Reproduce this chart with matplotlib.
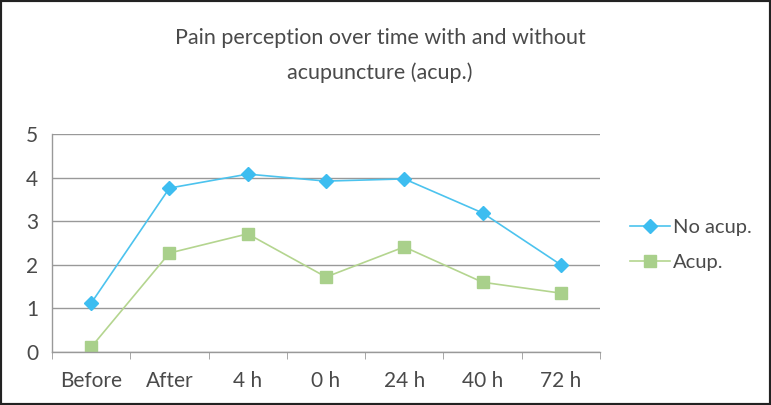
import matplotlib
matplotlib.use("Agg")
import matplotlib.pyplot as plt
from matplotlib.ticker import FixedLocator

categories = ["Before", "After", "4 h", "0 h", "24 h", "40 h", "72 h"]
no_acup = [1.12, 3.76, 4.08, 3.92, 3.97, 3.19, 2.0]
acup = [0.11, 2.27, 2.71, 1.72, 2.41, 1.6, 1.35]
yticks = [0, 1, 2, 3, 4, 5]

plt.rcParams['font.family'] = ['Lato', 'DejaVu Sans']
txt = '#4a4a4a'
grid = '#999999'

fig = plt.figure(figsize=(7.71, 4.05), dpi=100)
ax = fig.add_axes([52/771, 1-352/405, (600-52)/771, (352-134)/405])

x = list(range(len(categories)))
l1, = ax.plot(x, no_acup, color='#4CC3EE', lw=1.2, marker='D', ms=7,
              mfc='#3DBDF0', mec='#3DBDF0', label='No acup.')
l2, = ax.plot(x, acup, color='#B4D58F', lw=1.2, marker='s', ms=8,
              mfc='#A9D08B', mec='#A9D08B', label='Acup.')

ax.set_xlim(-0.5, 6.5)
ax.set_ylim(0, 5)
ax.set_yticks(yticks)
ax.set_yticklabels([str(v) for v in yticks], fontsize=15, color=txt)
ax.yaxis.grid(True, color=grid, lw=1)
ax.set_axisbelow(True)
ax.tick_params(axis='y', length=0, pad=10)

ax.set_xticks(x)
ax.set_xticklabels(categories, fontsize=15, color=txt)
ax.tick_params(axis='x', which='major', length=0, pad=14)
ax.xaxis.set_minor_locator(FixedLocator([i - 0.5 for i in range(len(categories) + 1)]))
ax.tick_params(axis='x', which='minor', length=5, color=grid, direction='out')

for s in ['top', 'right']:
    ax.spines[s].set_visible(False)
for s in ['left', 'bottom']:
    ax.spines[s].set_color(grid)
    ax.spines[s].set_linewidth(1)

fig.text(380/771, 1-38/405, "Pain perception over time with and without",
         ha='center', va='center', fontsize=15.5, color=txt)
fig.text(380/771, 1-73/405, "acupuncture (acup.)",
         ha='center', va='center', fontsize=15.5, color=txt)

leg = fig.legend(handles=[l1, l2], loc='center left', bbox_to_anchor=(612/771, 1-245/405),
                 frameon=False, fontsize=14.5, handlelength=2.0, handletextpad=0.15,
                 labelspacing=0.85)
for t in leg.get_texts():
    t.set_color(txt)

fig.patches.append(plt.Rectangle((0, 0), 1, 1, transform=fig.transFigure,
                                 fill=False, ec='#222222', lw=3))
fig.savefig('out.png', dpi=100)
